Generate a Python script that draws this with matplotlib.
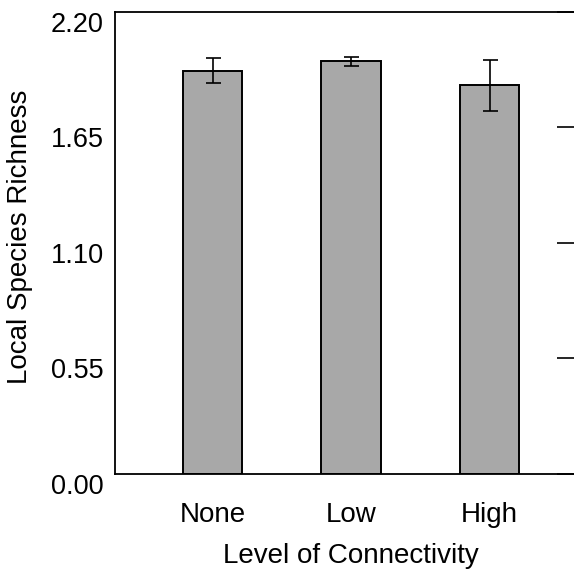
import matplotlib
matplotlib.use("Agg")
import matplotlib.pyplot as plt
from matplotlib.transforms import ScaledTranslation

# Values
categories = ["None", "Low", "High"]
richness = [1.92, 1.965, 1.85]
richness_err = [0.06, 0.021, 0.12]
yticks = [0.00, 0.55, 1.10, 1.65, 2.20]
ytick_labels = ["0.00", "0.55", "1.10", "1.65", "2.20"]

plt.rcParams["font.family"] = ["Liberation Sans", "DejaVu Sans"]


def main():
    fig = plt.figure(figsize=(5.74, 5.73), dpi=100)
    # right spine sits just past the image edge, like the cropped original
    ax = fig.add_axes([0.2003, 0.1728, 0.8031, 0.8063])

    x = list(range(len(categories)))
    ax.bar(x, richness, width=0.43, color="#a8a8a8", edgecolor="black",
           linewidth=1.4, zorder=2)
    ax.errorbar(x, richness, yerr=richness_err, fmt="none", ecolor="black",
                elinewidth=1.2, capsize=5.4, capthick=1.2, zorder=3)

    ax.set_xlim(-0.705, 2.623)
    ax.set_ylim(0, 2.20)
    ax.set_xticks(x)
    ax.set_xticklabels(categories, fontsize=20)
    ax.set_yticks(yticks)
    ax.set_yticklabels(ytick_labels, fontsize=19.5)

    ax.tick_params(axis="x", bottom=False, length=0, pad=20)
    ax.tick_params(axis="y", left=False, right=True, labelleft=True,
                   labelright=False, direction="in", length=14, width=1.2, pad=8)

    # labels in the original sit a little below their gridline
    offset = ScaledTranslation(0, -0.10, fig.dpi_scale_trans)
    for lab in ax.get_yticklabels():
        lab.set_transform(lab.get_transform() + offset)

    for side in ["left", "top", "bottom", "right"]:
        ax.spines[side].set_linewidth(1.3)

    ax.set_xlabel("Level of Connectivity", fontsize=20)
    ax.xaxis.set_label_coords(0.512, -0.150)
    ax.set_ylabel("Local Species Richness", fontsize=20)
    ax.yaxis.set_label_coords(-0.178, 0.513)

    fig.savefig("out.png", dpi=100)
    plt.close(fig)


if __name__ == "__main__":
    main()
